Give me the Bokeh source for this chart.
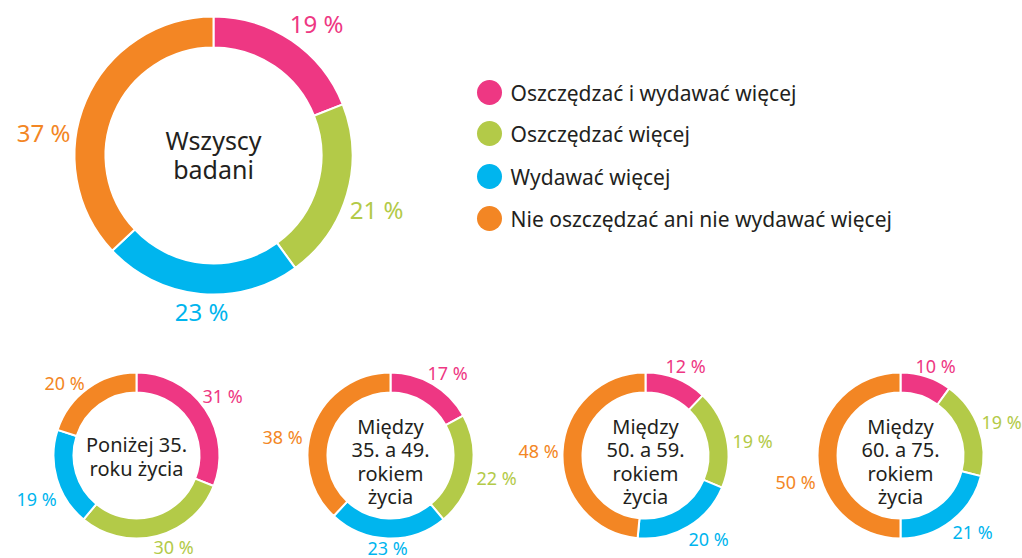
import math
from bokeh.plotting import figure
from bokeh.models import Range1d
from bokeh.core.properties import value
from bokeh.embed import file_html
from bokeh.resources import INLINE

# ---------------- data ----------------
categories = ["Oszczędzać i wydawać więcej", "Oszczędzać więcej",
              "Wydawać więcej", "Nie oszczędzać ani nie wydawać więcej"]
colors = ["#ee3783", "#b3ca48", "#00b5ee", "#f38624"]

groups = ["Wszyscy\nbadani",
          "Poniżej 35.\nroku życia",
          "Między\n35. a 49.\nrokiem\nżycia",
          "Między\n50. a 59.\nrokiem\nżycia",
          "Między\n60. a 75.\nrokiem\nżycia"]
all_values = [19, 21, 23, 37]
under35 = [31, 30, 19, 20]
age35_49 = [17, 22, 23, 38]
age50_59 = [12, 19, 20, 48]
age60_75 = [10, 19, 21, 50]
group_values = [all_values, under35, age35_49, age50_59, age60_75]

# ---------------- layout (screen px) ----------------
W, H = 1022, 558
def Y(sy):
    return H - sy

centers = [(213, 155), (136, 455), (390, 455), (645, 455), (900, 455)]
radii = [(108, 139), (63, 83), (63, 83), (63, 83), (63, 83)]
label_pos = [
    [(316, 23), (376, 209), (201, 311), (43, 132)],
    [(222, 395), (173, 546), (36, 498), (64, 382)],
    [(447, 372), (496, 477), (387, 547), (282, 436)],
    [(685, 365), (752, 440), (708, 538), (538, 450)],
    [(935, 365), (1001, 421), (972, 531), (795, 481)],
]
label_size = ["24px", "18px", "18px", "18px", "18px"]
center_size = ["25px", "20px", "20px", "20px", "20px"]
center_text_y = [154, 456, 461, 461, 461]

FONT = "Noto Sans"
DARK = "#231f20"

p = figure(width=W, height=H, output_backend="svg", toolbar_location=None,
           x_range=Range1d(0, W), y_range=Range1d(0, H),
           min_border=0, outline_line_color=None)
p.axis.visible = False
p.grid.visible = False
p.background_fill_color = "white"
p.border_fill_color = "white"

for gi, vals in enumerate(group_values):
    cx, cy = centers[gi]
    r_in, r_out = radii[gi]
    total = float(sum(vals))
    cum = 0.0
    starts, ends = [], []
    for v in vals:
        starts.append(math.pi / 2 - 2 * math.pi * cum / total)
        cum += v
        ends.append(math.pi / 2 - 2 * math.pi * cum / total)
    p.annular_wedge(x=[cx] * 4, y=[Y(cy)] * 4, inner_radius=r_in, outer_radius=r_out,
                    start_angle=starts, end_angle=ends, direction="clock",
                    fill_color=colors, line_color="white", line_width=2)
    # percentage labels
    lx = [pt[0] for pt in label_pos[gi]]
    ly = [Y(pt[1]) for pt in label_pos[gi]]
    p.text(x=lx, y=ly, text=[f"{v} %" for v in vals], text_color=colors,
           text_font=value(FONT), text_font_size=label_size[gi],
           text_align="center", text_baseline="middle")
    # centre title
    p.text(x=[cx], y=[Y(center_text_y[gi])], text=[groups[gi]], text_color=DARK,
           text_font=value(FONT), text_font_size=center_size[gi],
           text_align="center", text_baseline="middle", text_line_height=0.86)

# legend
leg_y = [92, 133, 176, 218]
p.scatter(x=[489] * 4, y=[Y(v) for v in leg_y], size=25, marker="circle",
          fill_color=colors, line_color=None)
p.text(x=[510] * 4, y=[Y(v) for v in leg_y], text=categories, text_color=DARK,
       text_font=value(FONT), text_font_size="21px",
       text_align="left", text_baseline="middle")

open("out.html", "w").write(file_html(p, INLINE))
